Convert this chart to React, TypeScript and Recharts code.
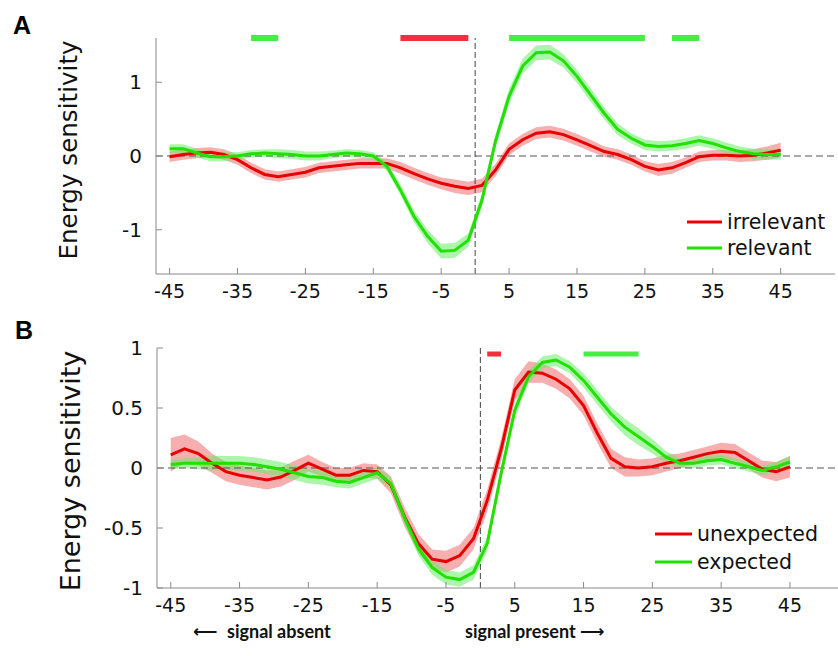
import React from 'react';
import { ComposedChart, Line, Area, XAxis, YAxis, ReferenceLine } from 'recharts';

// time points (lags)
const lags = [-45,-43,-41,-39,-37,-35,-33,-31,-29,-27,-25,-23,-21,-19,-17,-15,-13,-11,-9,-7,-5,-3,-1,1,3,5,7,9,11,13,15,17,19,21,23,25,27,29,31,33,35,37,39,41,43,45];

// Panel A
const irrelevant = [-0.01,0.02,0.04,0.05,0.02,-0.05,-0.16,-0.25,-0.28,-0.25,-0.22,-0.16,-0.14,-0.12,-0.1,-0.1,-0.1,-0.16,-0.24,-0.31,-0.37,-0.41,-0.44,-0.4,-0.19,0.09,0.22,0.31,0.33,0.29,0.22,0.14,0.06,0.02,-0.05,-0.14,-0.19,-0.16,-0.09,-0.01,0.01,0.01,0,0.01,0.04,0.08];
const irrelevantErr = [0.07,0.07,0.07,0.07,0.07,0.07,0.07,0.07,0.07,0.07,0.07,0.07,0.07,0.07,0.07,0.07,0.07,0.08,0.08,0.08,0.08,0.09,0.09,0.09,0.08,0.08,0.08,0.08,0.08,0.08,0.08,0.08,0.07,0.07,0.07,0.07,0.08,0.08,0.07,0.07,0.07,0.07,0.08,0.08,0.09,0.1];
const relevant = [0.1,0.1,0.04,-0.01,-0.01,0,0.03,0.04,0.03,0.02,0,0,0.02,0.04,0.03,0,-0.14,-0.46,-0.82,-1.09,-1.29,-1.28,-1.14,-0.6,0.2,0.81,1.22,1.4,1.41,1.29,1.08,0.83,0.58,0.36,0.24,0.15,0.13,0.14,0.17,0.21,0.17,0.11,0.06,0.03,0.02,0.02];
const relevantErr = [0.06,0.06,0.06,0.06,0.06,0.05,0.05,0.05,0.06,0.06,0.06,0.06,0.05,0.05,0.05,0.05,0.06,0.07,0.08,0.09,0.1,0.1,0.09,0.09,0.09,0.1,0.1,0.1,0.1,0.09,0.09,0.09,0.08,0.08,0.07,0.07,0.07,0.07,0.07,0.07,0.07,0.07,0.07,0.07,0.07,0.07];

// Panel B
const unexpected = [0.11,0.16,0.12,0.04,-0.03,-0.06,-0.08,-0.1,-0.075,-0.02,0.04,-0.01,-0.06,-0.06,-0.02,-0.03,-0.14,-0.41,-0.63,-0.76,-0.78,-0.73,-0.59,-0.27,0.15,0.65,0.8,0.79,0.74,0.66,0.52,0.29,0.08,0.01,0,0.01,0.04,0.06,0.09,0.12,0.14,0.13,0.06,-0.01,-0.03,0.01];
const unexpectedErr = [0.14,0.12,0.1,0.08,0.08,0.08,0.08,0.08,0.08,0.08,0.07,0.06,0.06,0.06,0.06,0.06,0.07,0.08,0.08,0.08,0.09,0.09,0.09,0.09,0.09,0.09,0.09,0.08,0.08,0.08,0.08,0.08,0.08,0.08,0.07,0.07,0.07,0.06,0.06,0.06,0.07,0.07,0.07,0.07,0.08,0.09];
const expected = [0.03,0.04,0.04,0.04,0.04,0.04,0.03,0.01,-0.01,-0.04,-0.07,-0.08,-0.11,-0.12,-0.08,-0.04,-0.13,-0.42,-0.67,-0.83,-0.91,-0.93,-0.87,-0.63,-0.05,0.48,0.76,0.88,0.9,0.84,0.73,0.59,0.45,0.34,0.26,0.18,0.09,0.04,0.04,0.06,0.07,0.04,0.01,-0.02,0.01,0.05];
const expectedErr = [0.04,0.04,0.05,0.06,0.06,0.06,0.06,0.06,0.06,0.06,0.06,0.06,0.05,0.05,0.05,0.05,0.05,0.05,0.06,0.06,0.06,0.06,0.06,0.06,0.06,0.06,0.05,0.05,0.05,0.05,0.06,0.06,0.06,0.07,0.07,0.06,0.05,0.04,0.04,0.04,0.04,0.04,0.04,0.04,0.04,0.05];

// significance bars [start, end]
const sigA_red = [[-11, -1]];
const sigA_green = [[-33, -29], [5, 25], [29, 33]];
const sigB_red = [[1, 3]];
const sigB_green = [[15, 23]];

const xTicks = [-45, -35, -25, -15, -5, 5, 15, 25, 35, 45];
const yTicksA = [-1, 0, 1];
const yTicksB = [-1, -0.5, 0, 0.5, 1];

const RED = '#e80000';
const RED_BAND = '#f07878';
const RED_BAR = '#f0303a';
const GREEN = '#22e000';
const GREEN_BAND = '#66ee66';
const GREEN_BAR = '#44ee44';
const AXIS = '#8a8a8a';
const FONT = 'DejaVu Sans, sans-serif';

function buildRows(a: number[], ae: number[], b: number[], be: number[]) {
  return lags.map((t, i) => ({
    t,
    a: a[i],
    aBand: [a[i] - ae[i], a[i] + ae[i]],
    b: b[i],
    bBand: [b[i] - be[i], b[i] + be[i]],
  }));
}

const rowsA = buildRows(irrelevant, irrelevantErr, relevant, relevantErr);
const rowsB = buildRows(unexpected, unexpectedErr, expected, expectedErr);

const XTick = (props: any) => {
  const { x, y, payload } = props;
  return (
    <g>
      <line x1={x} x2={x} y1={y} y2={y - 6} stroke={AXIS} strokeWidth={1} />
      <text x={x} y={y + 24} textAnchor="middle" fontFamily={FONT} fontSize={19} fill="#111">
        {payload.value}
      </text>
    </g>
  );
};

const YTick = (props: any) => {
  const { x, y, payload } = props;
  return (
    <g>
      <line x1={x} x2={x + 6} y1={y} y2={y} stroke={AXIS} strokeWidth={1} />
      <text x={x - 14} y={y + 7} textAnchor="end" fontFamily={FONT} fontSize={20} fill="#111">
        {payload.value}
      </text>
    </g>
  );
};

function Panel(props: {
  rows: any[];
  width: number;
  height: number;
  margin: any;
  yWidth: number;
  yDomain: number[];
  yTicks: number[];
  sigRed: number[][];
  sigGreen: number[][];
  sigY: number;
  sigW: number;
}) {
  const { rows, width, height, margin, yWidth, yDomain, yTicks, sigRed, sigGreen, sigY, sigW } = props;
  return (
    <ComposedChart width={width} height={height} data={rows} margin={margin}>
      <XAxis
        type="number"
        dataKey="t"
        domain={[-47, 53]}
        ticks={xTicks}
        allowDataOverflow
        height={30}
        tickSize={0}
        tickMargin={0}
        tickLine={false}
        axisLine={{ stroke: AXIS, strokeWidth: 1 }}
        tick={<XTick />}
        interval={0}
      />
      <YAxis
        type="number"
        domain={yDomain}
        ticks={yTicks}
        allowDataOverflow
        width={yWidth}
        tickSize={0}
        tickMargin={0}
        tickLine={false}
        axisLine={{ stroke: AXIS, strokeWidth: 1 }}
        tick={<YTick />}
        interval={0}
      />
      <ReferenceLine y={0} stroke="#555" strokeDasharray="7 4" strokeWidth={1} />
      <ReferenceLine x={0} stroke="#444" strokeDasharray="6 3" strokeWidth={1} />
      <Area dataKey="aBand" type="linear" stroke="none" fill={RED_BAND} fillOpacity={0.6} isAnimationActive={false} />
      <Area dataKey="bBand" type="linear" stroke="none" fill={GREEN_BAND} fillOpacity={0.55} isAnimationActive={false} />
      <Line dataKey="a" type="linear" stroke={RED} strokeWidth={3} dot={false} isAnimationActive={false} />
      <Line dataKey="b" type="linear" stroke={GREEN} strokeWidth={3} dot={false} isAnimationActive={false} />
      {sigRed.map((s, i) => (
        <ReferenceLine key={'r' + i} segment={[{ x: s[0], y: sigY }, { x: s[1], y: sigY }]} stroke={RED_BAR} strokeWidth={sigW} ifOverflow="visible" />
      ))}
      {sigGreen.map((s, i) => (
        <ReferenceLine key={'g' + i} segment={[{ x: s[0], y: sigY }, { x: s[1], y: sigY }]} stroke={GREEN_BAR} strokeWidth={sigW} ifOverflow="visible" />
      ))}
    </ComposedChart>
  );
}

const abs = (top: number, left: number): React.CSSProperties => ({ position: 'absolute', top, left });

export default function App() {
  return (
    <div style={{ position: 'absolute', top: 0, left: 0, width: 838, height: 656, overflow: 'hidden', background: '#fff' }}>
      <div style={abs(0, 0)}>
        <Panel
          rows={rowsA}
          width={838}
          height={310}
          margin={{ top: 38, right: 3, bottom: 6, left: 0 }}
          yWidth={156}
          yDomain={[-1.6, 1.6]}
          yTicks={yTicksA}
          sigRed={sigA_red}
          sigGreen={sigA_green}
          sigY={1.6}
          sigW={6}
        />
      </div>
      <div style={abs(300, 0)}>
        <Panel
          rows={rowsB}
          width={846}
          height={340}
          margin={{ top: 48, right: 1, bottom: 22, left: 0 }}
          yWidth={157}
          yDomain={[-1, 1]}
          yTicks={yTicksB}
          sigRed={sigB_red}
          sigGreen={sigB_green}
          sigY={0.95}
          sigW={5}
        />
      </div>
      <svg width={838} height={656} style={{ position: 'absolute', top: 0, left: 0, pointerEvents: 'none' }}>
        <text x={13} y={34} fontFamily="Liberation Sans, Arial, sans-serif" fontWeight="bold" fontSize={25} fill="#000">A</text>
        <text x={15} y={339} fontFamily="Liberation Sans, Arial, sans-serif" fontWeight="bold" fontSize={25} fill="#000">B</text>
        <text transform="translate(77,150) rotate(-90)" textAnchor="middle" fontFamily={FONT} fontSize={24.6} fill="#111">Energy sensitivity</text>
        <text transform="translate(80,471) rotate(-90)" textAnchor="middle" fontFamily={FONT} fontSize={27} fill="#111">Energy sensitivity</text>
        {/* legend A */}
        <line x1={687} x2={722} y1={222} y2={222} stroke={RED} strokeWidth={3} />
        <line x1={687} x2={722} y1={248} y2={248} stroke={GREEN} strokeWidth={3} />
        <text x={727} y={229} fontFamily={FONT} fontSize={20.5} fill="#111">irrelevant</text>
        <text x={727} y={255} fontFamily={FONT} fontSize={20.5} fill="#111">relevant</text>
        {/* legend B */}
        <line x1={655} x2={692} y1={534} y2={534} stroke={RED} strokeWidth={3} />
        <line x1={655} x2={692} y1={562} y2={562} stroke={GREEN} strokeWidth={3} />
        <text x={697} y={541} fontFamily={FONT} fontSize={20.5} fill="#111">unexpected</text>
        <text x={697} y={569} fontFamily={FONT} fontSize={20.5} fill="#111">expected</text>
        {/* direction labels */}
        <text x={193} y={637} fontFamily={FONT} fontWeight="bold" fontSize={17} fill="#111">⟵</text>
        <text x={227} y={638} fontFamily="Lato, sans-serif" fontWeight="bold" fontSize={18} fill="#111">signal absent</text>
        <text x={465} y={638} fontFamily="Lato, sans-serif" fontWeight="bold" fontSize={18} fill="#111">signal present</text>
        <text x={580} y={637} fontFamily={FONT} fontWeight="bold" fontSize={17} fill="#111">⟶</text>
      </svg>
    </div>
  );
}
